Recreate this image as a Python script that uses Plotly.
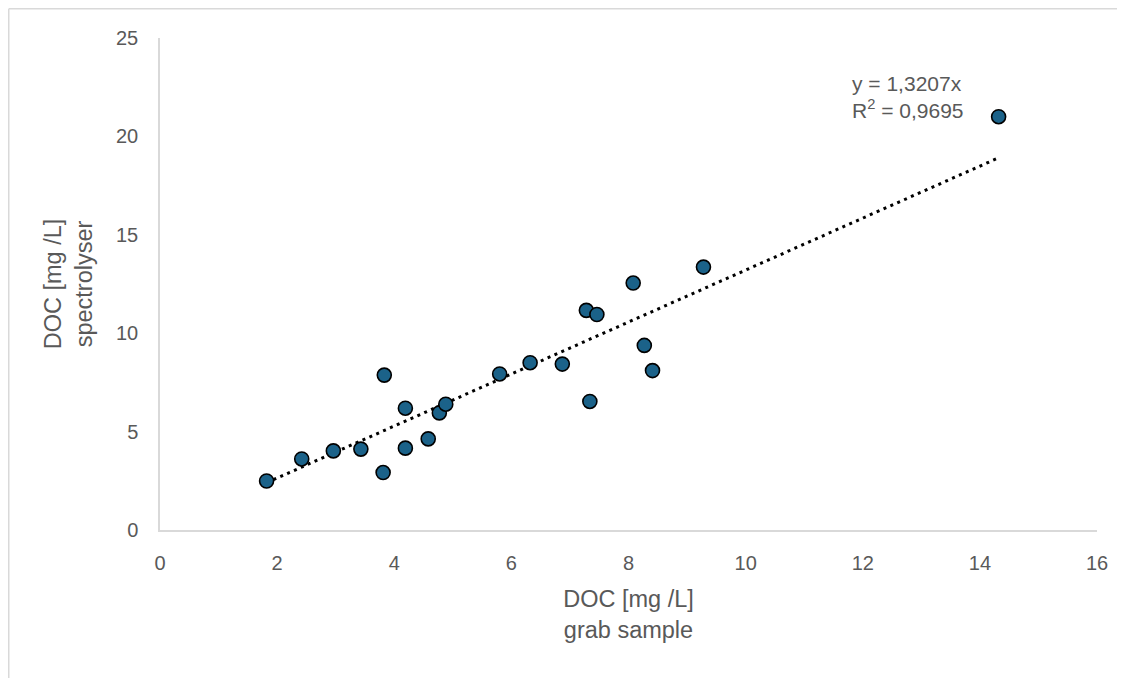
import plotly.graph_objects as go

# Data
grab_sample = [1.82, 2.42, 2.96, 3.43, 3.81, 3.83, 4.19, 4.19, 4.58, 4.77, 4.88,
               5.80, 6.32, 6.87, 7.28, 7.46, 7.34, 8.08, 8.27, 8.41, 9.28, 14.32]
spectrolyser = [2.49, 3.61, 4.02, 4.11, 2.92, 7.87, 6.19, 4.16, 4.63, 5.95, 6.39,
                7.93, 8.50, 8.43, 11.16, 10.95, 6.53, 12.55, 9.38, 8.10, 13.36, 21.00]
slope = 1.3207
r2 = 0.9695
x_ticks = [0, 2, 4, 6, 8, 10, 12, 14, 16]
y_ticks = [0, 5, 10, 15, 20, 25]

FONT = "Liberation Sans, Arial, sans-serif"
TXT = "#595959"
AX = "#d9d9d9"

xmin, xmax = min(grab_sample), max(grab_sample)
trend_x = [xmin, xmax]
trend_y = [slope * xmin, slope * xmax]

W, H = 1117, 670
L, T, R, B = 152, 30, 28, 148
pw, ph = W - L - R, H - T - B

fig = go.Figure()
fig.add_trace(go.Scatter(
    x=trend_x, y=trend_y, mode="lines",
    line=dict(color="black", width=3, dash="3px,4.5px"),
    hoverinfo="skip", showlegend=False))
fig.add_trace(go.Scatter(
    x=grab_sample, y=spectrolyser, mode="markers",
    marker=dict(size=14, color="#1B6289", line=dict(color="black", width=1.6)),
    showlegend=False))

fig.add_annotation(
    xref="paper", yref="paper", x=(842 - L) / pw, y=1 - (89 - T) / ph,
    xanchor="left", yanchor="middle",
    text=f"y = {str(slope).replace('.', ',')}x<br>R<sup>2</sup> = {str(r2).replace('.', ',')}",
    showarrow=False, align="left", font=dict(family=FONT, size=21, color=TXT))

fig.update_xaxes(
    range=[0, 16], tickvals=x_ticks, showgrid=False, zeroline=False,
    showline=True, linecolor=AX, linewidth=1.5, ticks="", ticklabelstandoff=14,
    tickfont=dict(family=FONT, size=20, color=TXT),
    title=dict(text="DOC [mg /L]<br>grab sample", standoff=18,
               font=dict(family=FONT, size=23.5, color=TXT)))
fig.update_yaxes(
    range=[0, 25], tickvals=y_ticks, showgrid=False, zeroline=False,
    showline=True, linecolor=AX, linewidth=1.5, ticks="", ticklabelstandoff=16,
    tickfont=dict(family=FONT, size=20, color=TXT),
    title=dict(text="DOC [mg /L]<br>spectrolyser", standoff=17,
               font=dict(family=FONT, size=23.5, color=TXT)))

fig.update_layout(
    width=W, height=H,
    margin=dict(l=L, r=R, t=T, b=B),
    paper_bgcolor="white", plot_bgcolor="white",
    shapes=[
        dict(type="line", xref="paper", yref="paper",
             x0=(0.75 - L) / pw, x1=1.2, y0=1 + (T - 0.75) / ph, y1=1 + (T - 0.75) / ph,
             line=dict(color=AX, width=1.5)),
        dict(type="line", xref="paper", yref="paper",
             x0=(0.75 - L) / pw, x1=(0.75 - L) / pw, y0=-0.5, y1=1 + (T - 0.75) / ph,
             line=dict(color=AX, width=1.5)),
    ])

fig.write_html("out.html")
